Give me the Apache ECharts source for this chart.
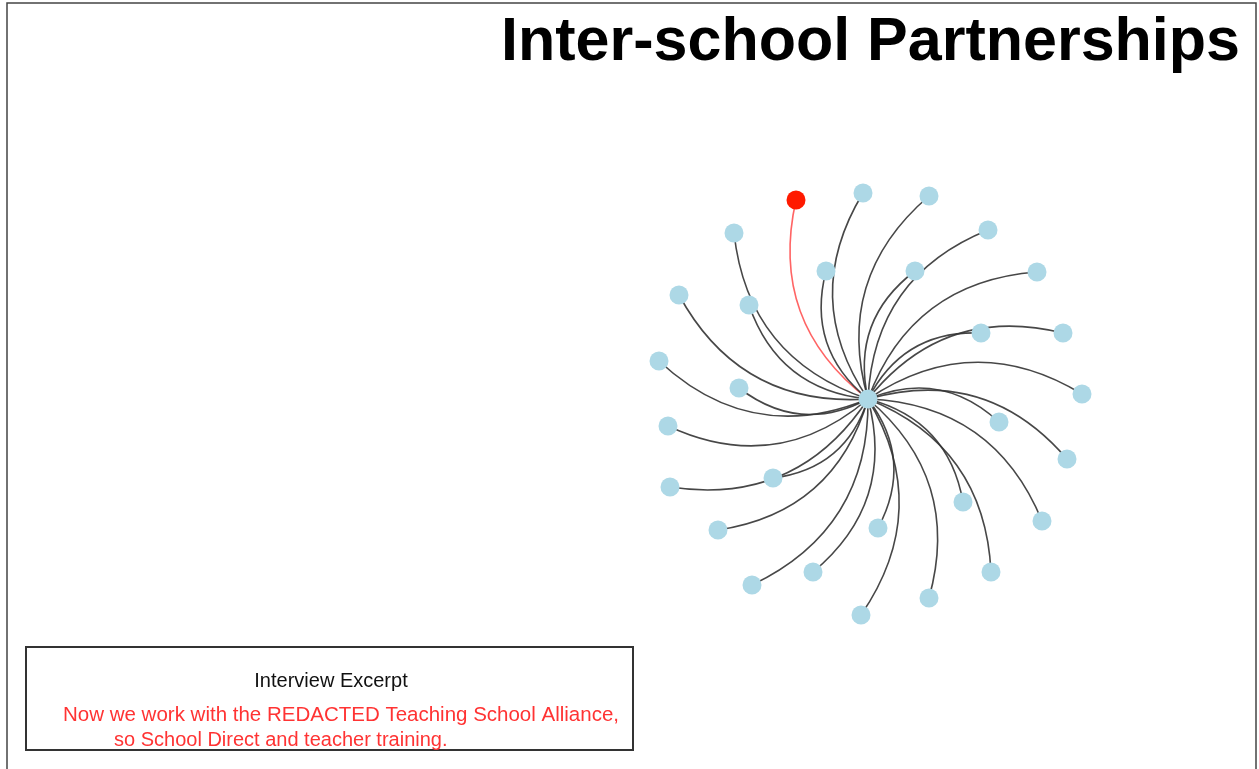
<!DOCTYPE html>
<html>
<head>
<meta charset="utf-8">
<script src="https://cdn.jsdelivr.net/npm/echarts@6/dist/echarts.min.js"></script>
<style>
html,body{margin:0;padding:0;background:#fff;}
#chart{width:1259px;height:769px;}
</style>
</head>
<body>
<div id="chart"></div>
<script>
// Node layout coordinates (units; centre school at origin)
const nodeNames = [
  'Centre','Red','N1','N2','N3','N4','N5','N6','N7','N8','N9','N10','N11','N12','N13',
  'N14','N15','N16','N17','N18','N19','N20','N21','N22','N23','N24','N25','N26','N27','N28'
];
const nodeX = [
  0, -0.72, -0.05, 0.61, 1.20, 1.69, -1.34, -0.42, 0.47, -1.89, -1.19, 1.13, 1.95, -2.09, -1.29,
  2.14, -2.00, 1.31, 1.99, -0.95, -1.98, 0.95, 1.74, -1.50, 0.10, -0.55, 1.23, -1.16, 0.61, -0.07
];
const nodeY = [
  0, 1.99, 2.06, 2.03, 1.69, 1.27, 1.66, 1.28, 1.28, 1.04, 0.94, 0.66, 0.66, 0.38, 0.11,
  0.05, -0.27, -0.23, -0.60, -0.79, -0.88, -1.03, -1.22, -1.31, -1.29, -1.73, -1.73, -1.86, -1.99, -2.16
];
const highlighted = ['Red'];
const titleText = 'Inter-school Partnerships';
const boxTitle = 'Interview Excerpt';
const quoteLine1 = 'Now we work with the REDACTED Teaching School Alliance,';
const quoteLine2 = 'so School Direct and teacher training.';

const nodes = nodeNames.map((n, i) => ({
  name: n,
  value: [nodeX[i], nodeY[i]],
  itemStyle: { color: highlighted.includes(n) ? '#ff1a00' : '#add8e6' }
}));
const links = nodeNames.slice(1).map(n => ({
  source: 'Centre',
  target: n,
  lineStyle: highlighted.includes(n)
    ? { color: '#ff3030', opacity: 0.75 }
    : { color: '#333333', opacity: 0.9 }
}));

const chart = echarts.init(document.getElementById('chart'), null, { renderer: 'canvas' });
chart.setOption({
  animation: false,
  backgroundColor: '#ffffff',
  grid: { left: 0, right: 0, top: 0, bottom: 0, containLabel: false },
  xAxis: { type: 'value', min: -8.68, max: 3.91, show: false },
  yAxis: { type: 'value', min: -3.70, max: 3.99, show: false },
  series: [{
    type: 'graph',
    coordinateSystem: 'cartesian2d',
    symbol: 'circle',
    symbolSize: 19,
    data: nodes,
    links: links,
    label: { show: false },
    lineStyle: { width: 1.6, curveness: 0.32 },
    emphasis: { disabled: true }
  }],
  graphic: [
    { type: 'polyline', shape: { points: [[7, 769], [7, 3], [1256, 3], [1256, 769]] },
      style: { stroke: '#444', lineWidth: 1.5, fill: null }, silent: true },
    { type: 'text', x: 1240, y: 43,
      style: { text: titleText, font: 'bold 61px "Liberation Sans", Arial, sans-serif',
               fill: '#000', align: 'right', verticalAlign: 'middle' } },
    { type: 'rect', shape: { x: 26, y: 647, width: 607, height: 103 },
      style: { stroke: '#333', lineWidth: 2, fill: null } },
    { type: 'text', x: 331, y: 681,
      style: { text: boxTitle, font: '20px "Liberation Sans", Arial, sans-serif',
               fill: '#111', align: 'center', verticalAlign: 'middle' } },
    { type: 'text', x: 63, y: 715,
      style: { text: quoteLine1, font: '20.5px "Liberation Sans", Arial, sans-serif',
               fill: '#ff3333', align: 'left', verticalAlign: 'middle' } },
    { type: 'text', x: 114, y: 740,
      style: { text: quoteLine2, font: '20px "Liberation Sans", Arial, sans-serif',
               fill: '#ff3333', align: 'left', verticalAlign: 'middle' } }
  ]
});
</script>
</body>
</html>
